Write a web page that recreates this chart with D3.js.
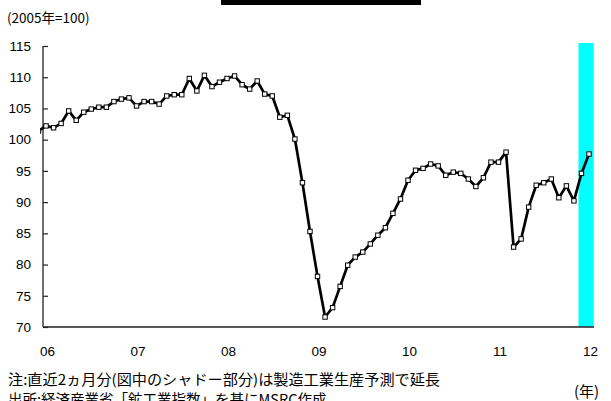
<!DOCTYPE html>
<html>
<head>
<meta charset="utf-8">
<script src="https://cdn.jsdelivr.net/npm/d3@7"></script>
<style>
    body { margin: 0; background: #fff; }
    svg { display: block; }
    text { font-family: "Liberation Sans", "Noto Sans CJK JP", sans-serif; fill: #000; }
    .jp { font-family: "Noto Sans CJK JP", sans-serif; }
</style>
</head>
<body>
<div id="chart"></div>
<script>
// 鉱工業生産指数 (2005年=100), 2005年12月〜2012年1月, 月次
const startMonth = new Date(2005, 11, 1);
const ipValues = [
    101.4,
    102.2, 101.9, 102.6, 104.6, 103.1, 104.4, 104.9, 105.2, 105.2, 106.1, 106.5, 106.7,
    105.4, 106.1, 106.1, 105.7, 107.0, 107.2, 107.2, 109.8, 107.8, 110.3, 108.5, 109.2,
    109.8, 110.2, 108.8, 108.1, 109.4, 107.3, 107.0, 103.6, 103.9, 100.1, 93.1, 85.3,
    78.1, 71.6, 73.1, 76.5, 79.9, 81.2, 82.0, 83.3, 84.7, 85.9, 88.2, 90.5,
    93.5, 95.1, 95.4, 96.1, 95.8, 94.3, 94.8, 94.6, 93.7, 92.5, 93.9, 96.4,
    96.4, 98.0, 82.8, 84.1, 89.2, 92.7, 93.1, 93.7, 90.7, 92.6, 90.2, 94.6,
    97.7
];
const months = ipValues.map((v, i) => d3.timeFormat("%Y-%m")(d3.timeMonth.offset(startMonth, i)));
const forecastMonths = ["2011-12", "2012-01"];
const yearLabels = ["06", "07", "08", "09", "10", "11", "12"];
const yTicks = [70, 75, 80, 85, 90, 95, 100, 105, 110, 115];

const width = 611, height = 401;
const plot = { left: 43, right: 594, top: 43, bottom: 327 };

const svg = d3.select("#chart").append("svg")
    .attr("width", width)
    .attr("height", height);

const x = d3.scalePoint()
    .domain(months)
    .range([38.5, 589]);
const step = x.step();

const y = d3.scaleLinear()
    .domain([70, 115])
    .range([327, 46]);

const xLabel = d3.scalePoint()
    .domain(yearLabels)
    .range([47, 590]);

// title bar
svg.append("rect")
    .attr("x", 221).attr("y", 0)
    .attr("width", 200).attr("height", 5)
    .attr("fill", "#000");

// forecast shading
svg.append("rect")
    .attr("x", x(forecastMonths[0]) - step / 2 + 0.8)
    .attr("y", plot.top)
    .attr("width", x(forecastMonths[forecastMonths.length - 1]) - x(forecastMonths[0]) + step + 0.2)
    .attr("height", plot.bottom - plot.top)
    .attr("fill", "#00ffff");

// y axis, ticks inside
svg.append("g")
    .attr("transform", `translate(${plot.left},0)`)
    .call(d3.axisLeft(y).tickValues(yTicks).tickSizeInner(-5).tickSizeOuter(0).tickPadding(12))
    .call(g => g.select(".domain").attr("stroke", "#222").attr("stroke-width", 1.3)
        .attr("d", `M0,${y(115)}V${plot.bottom}`))
    .call(g => g.selectAll(".tick line").attr("stroke", "#222").attr("stroke-width", 1.2))
    .call(g => g.selectAll(".tick text").style("font-size", "13.5px").attr("fill", "#000"));

// x axis
svg.append("line")
    .attr("x1", plot.left).attr("x2", plot.right)
    .attr("y1", plot.bottom).attr("y2", plot.bottom)
    .attr("stroke", "#222")
    .attr("stroke-width", 1.3);

svg.append("g")
    .attr("transform", `translate(0,${plot.bottom})`)
    .call(d3.axisBottom(xLabel).tickSize(0).tickPadding(19))
    .call(g => g.select(".domain").remove())
    .call(g => g.selectAll(".tick text").style("font-size", "13.5px").attr("fill", "#000"));

// series
svg.append("clipPath").attr("id", "plotClip")
    .append("rect")
    .attr("x", 40).attr("y", 0)
    .attr("width", width - 40).attr("height", height);

const series = months.map((m, i) => ({ month: m, value: ipValues[i] }));
const lineLayer = svg.append("g").attr("clip-path", "url(#plotClip)");

lineLayer.append("path")
    .datum(series)
    .attr("fill", "none")
    .attr("stroke", "#000")
    .attr("stroke-width", 2.7)
    .attr("stroke-linejoin", "round")
    .attr("d", d3.line()
        .x(d => x(d.month))
        .y(d => y(d.value)));

lineLayer.selectAll(".marker")
    .data(series)
    .join("rect")
    .attr("class", "marker")
    .attr("x", d => x(d.month) - 2.2)
    .attr("y", d => y(d.value) - 2.2)
    .attr("width", 4.4)
    .attr("height", 4.4)
    .attr("fill", "#fff")
    .attr("stroke", "#000")
    .attr("stroke-width", 1);

// texts
svg.append("text")
    .attr("class", "jp")
    .attr("x", 7).attr("y", 23)
    .style("font-size", "13.5px")
    .text("(2005年=100)");

svg.append("text")
    .attr("class", "jp")
    .attr("x", 8).attr("y", 385)
    .style("font-size", "14.5px")
    .attr("textLength", 432)
    .attr("lengthAdjust", "spacingAndGlyphs")
    .text("注:直近2ヵ月分(図中のシャドー部分)は製造工業生産予測で延長");

svg.append("text")
    .attr("class", "jp")
    .attr("x", 8).attr("y", 405)
    .style("font-size", "14.5px")
    .text("出所:経済産業省「鉱工業指数」を基にMSRC作成");

svg.append("text")
    .attr("class", "jp")
    .attr("x", 574).attr("y", 397)
    .style("font-size", "15px")
    .text("(年)");
</script>
</body>
</html>
